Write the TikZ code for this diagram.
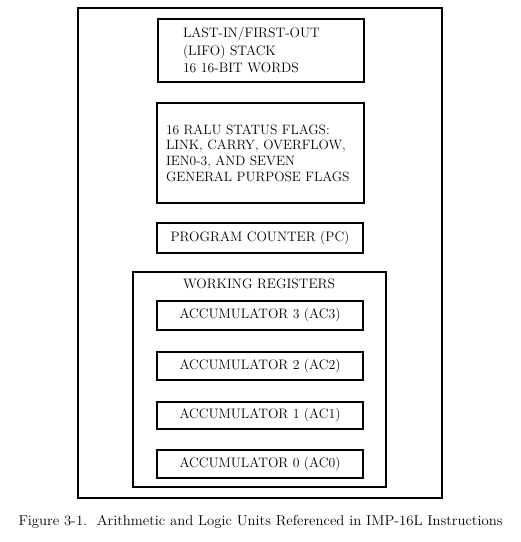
\documentclass[tikz,border=0pt]{standalone}
\usepackage{fontspec}
\begin{document}
\begin{tikzpicture}[x=1pt,y=-1pt,
  boxstyle/.style={draw, line width=1.1pt, inner sep=0pt, minimum width=206pt},
  labelstyle/.style={font=\fontsize{13.7}{17.5}\selectfont},
  flagstyle/.style={font=\fontsize{13.5}{15.7}\selectfont}]
\useasboundingbox (0,0) rectangle (521,542);
\node[draw, line width=1.2pt, minimum width=364pt, minimum height=490pt, inner sep=0pt] (outer) at (260,253) {};
\node[boxstyle, minimum height=63pt, labelstyle, text width=156pt, align=left] (lifo) at (261,50.5)
  {LAST-IN/FIRST-OUT\\(LIFO) STACK\\16 16-BIT WORDS};
\node[boxstyle, minimum width=207pt, minimum height=100pt, flagstyle, text width=189pt, align=left] (flags) at (260.5,153)
  {16 RALU STATUS FLAGS:\\LINK, CARRY, OVERFLOW,\\IEN0-3, AND SEVEN\\GENERAL PURPOSE FLAGS};
\node[boxstyle, minimum height=30pt, labelstyle] (pc) at (260,238) {PROGRAM COUNTER (PC)};
\node[draw, line width=1.1pt, minimum width=253pt, minimum height=215pt, inner sep=0pt] (wr) at (259.5,379.5) {};
\node[labelstyle, anchor=base] (wrlabel) at (259,288) {WORKING REGISTERS};
\node[boxstyle, minimum height=29pt, labelstyle] (ac3) at (260,315.5) {ACCUMULATOR 3 (AC3)};
\node[boxstyle, minimum height=28pt, labelstyle] (ac2) at (260,366) {ACCUMULATOR 2 (AC2)};
\node[boxstyle, minimum height=27pt, labelstyle] (ac1) at (260,415.5) {ACCUMULATOR 1 (AC1)};
\node[boxstyle, minimum height=28pt, labelstyle] (ac0) at (260,464) {ACCUMULATOR 0 (AC0)};
\node[font=\fontsize{14.3}{16}\selectfont, anchor=base, xscale=1.03, transform shape] (caption) at (260.5,525)
  {Figure 3-1.\ \ Arithmetic and Logic Units Referenced in IMP-16L Instructions};
\end{tikzpicture}
\end{document}
